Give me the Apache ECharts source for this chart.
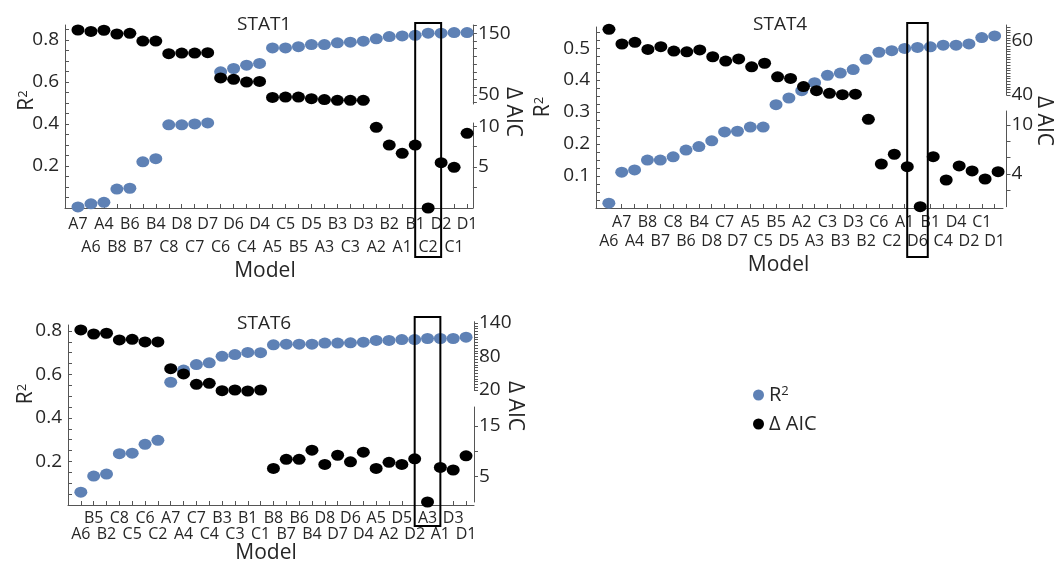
<!DOCTYPE html>
<html><head><meta charset="utf-8">
<script src="https://cdn.jsdelivr.net/npm/echarts@6/dist/echarts.min.js"></script>
<style>html,body{margin:0;padding:0;background:#fff}#c{width:1055px;height:565px}</style>
</head><body><div id="c"></div>
<script>
// ---------------- data ----------------
const models1 = ['A7','A6','A4','B8','B6','B7','B4','C8','D8','C7','D7','C6','D6','C4','D4','A5','C5','B5','D5','A3','B3','C3','D3','A2','B2','A1','B1','C2','D2','C1','D1'];
const r2_1 = [0.005,0.02,0.027,0.09,0.094,0.22,0.235,0.396,0.396,0.40,0.405,0.648,0.664,0.68,0.688,0.762,0.762,0.768,0.778,0.778,0.786,0.789,0.794,0.805,0.816,0.819,0.822,0.832,0.832,0.835,0.835];
const aic_1 = [155.4,153,155,148.9,150,137.5,137.5,117,118,118,118.7,77.6,75.4,71,72,46,46.7,46.7,44,42.5,41.4,41.4,41.4,9.85,7.69,6.68,7.69,0,5.53,4.97,9.12];

const models4 = ['A6','A7','A4','B8','B7','C8','B6','B4','D8','C7','D7','A5','C5','B5','D5','A2','A3','C3','B3','D3','B2','C6','C2','A1','D6','B1','C4','D4','D2','C1','D1'];
const r2_4 = [0.015,0.112,0.119,0.15,0.15,0.16,0.181,0.192,0.21,0.238,0.24,0.253,0.253,0.323,0.344,0.367,0.392,0.415,0.422,0.433,0.465,0.487,0.492,0.499,0.502,0.504,0.509,0.509,0.513,0.533,0.538];
const aic_4 = [64.2,58.8,59.4,56.8,57.8,56.2,55.9,56.6,54.1,52.5,53.3,50.4,51.7,46.7,46.1,43.1,41.6,40.6,40.1,40.3,10.67,5.21,6.4,4.88,0,6.1,3.26,4.97,4.36,3.38,4.27];

const models6 = ['A6','B5','B2','C8','C5','C6','C2','A7','A4','C7','C4','B3','C3','B1','C1','B8','B7','B6','B4','D8','D7','D6','D4','A5','A2','D5','D2','A3','A1','D3','D1'];
const r2_6 = [0.059,0.133,0.142,0.236,0.238,0.279,0.297,0.564,0.62,0.645,0.653,0.683,0.691,0.701,0.70,0.736,0.739,0.739,0.739,0.744,0.744,0.745,0.748,0.756,0.756,0.76,0.76,0.765,0.765,0.765,0.771];
const aic_6 = [127.5,120.3,121.6,109.6,110.8,106,106,58.2,48.7,30.2,32,18.8,20,18.2,20,6.6,8.4,8.4,10.2,7.4,9.2,7.9,9.8,6.6,7.8,7.4,8.5,0,6.8,6.3,9.1];

const titles = ['STAT1','STAT4','STAT6'];
const highlighted = ['C2','D6','A3'];
const aicBreak = [20, 20, 15];
const r2Labels = [[0.2,0.4,0.6,0.8],[0.1,0.2,0.3,0.4,0.5],[0.2,0.4,0.6,0.8]];
const upLabels = [[50,150],[40,60],[20,80,140]];
const loLabels = [[5,10],[4,10],[5,15]];

// ---------------- layout / style ----------------
const FONT = 'Open Sans';
const TXT = '#262626';
const AX = '#555';
const BLUE = '#5e81b5';
function seq(a, b, s) { const o = []; for (let v = a; v <= b + 1e-9; v += s) o.push(Math.round(v * 1000) / 1000); return o; }

const panels = [
  {models: models1, r2: r2_1, aic: aic_1, firstRowOdd: true,
   left: 65, step: 12.97, xMax: 31.45, top: 25, bottom: 208, r2Max: 0.871, r2Tick: 0.05,
   upTop: 25, upBottom: 104, upMin: 35.4, upMax: 163.5, upTicks: seq(37.5, 162.5, 12.5),
   loTop: 123, loBottom: 208, loMin: 0, loMax: 10.38, loTicks: [2.5,5,7.5,10],
   lh: 23, modelGap: 53, modelPad: [0,8,0,0], r2Gap: 27, r2Pad: [0,0,0,32], aicGap: 30, aicPad: [0,9,0,0],
   titleLeft: 237, titleTop: 15, boxHalf: 1, boxTop: 23, boxBottom: 257},
  {models: models4, r2: r2_4, aic: aic_4, firstRowOdd: false,
   left: 596, step: 12.97, xMax: 31.65, top: 27, bottom: 208, r2Max: 0.566, r2Tick: 0.025,
   upTop: 25, upBottom: 95, upMin: 40, upMax: 65.8, upTicks: seq(40, 65, 1),
   loTop: 111, loBottom: 206.7, loMin: 0, loMax: 11.68, loTicks: [2,4,6,8,10],
   lh: 19, modelGap: 47, modelPad: [0,42,0,0], r2Gap: 42, r2Pad: [0,0,0,21], aicGap: 30, aicPad: [0,0,0,7],
   titleLeft: 753, titleTop: 15, boxHalf: 0.8, boxTop: 23, boxBottom: 257},
  {models: models6, r2: r2_6, aic: aic_6, firstRowOdd: false,
   left: 68, step: 12.84, xMax: 31.62, top: 325, bottom: 507, r2Max: 0.827, r2Tick: 0.05,
   upTop: 321.7, upBottom: 390, upMin: 20, upMax: 142.3, upTicks: seq(20, 140, 5),
   loTop: 407, loBottom: 502, loMin: 0, loMax: 18.7, loTicks: [5,10,15],
   lh: 16, modelGap: 38, modelPad: [0,10,0,0], r2Gap: 31, r2Pad: [0,0,0,42], aicGap: 30, aicPad: [0,18,0,0],
   titleLeft: 237, titleTop: 314, boxHalf: 1, boxTop: 317, boxBottom: 526}
];

const grid = [], xAxis = [], yAxis = [], series = [], title = [];
const supRich = {sup: {fontSize: 13, fontFamily: FONT, color: TXT, verticalAlign: 'top', lineHeight: 13}};

panels.forEach((p, i) => {
  const w = p.xMax * p.step;
  const pos = seq(1, p.models.length, 1);
  const isRow1 = k => (k % 2 === 1) === p.firstRowOdd;
  const pos1 = pos.filter(isRow1), pos2 = pos.filter(k => !isRow1(k));
  const labelStyle = {showMinLabel: true, showMaxLabel: true, hideOverlap: false,
    fontSize: 16, fontFamily: FONT, color: TXT, margin: 5, lineHeight: p.lh};
  grid.push({left: p.left, top: p.top, width: w, height: p.bottom - p.top});
  grid.push({left: p.left, top: p.upTop, width: w, height: p.upBottom - p.upTop});
  grid.push({left: p.left, top: p.loTop, width: w, height: p.loBottom - p.loTop});

  // main x axis: first label row + axis name
  xAxis.push({
    gridIndex: 3 * i, type: 'value', min: 0, max: p.xMax,
    name: 'Model', nameLocation: 'middle', nameGap: p.modelGap, nameMoveOverlap: false,
    nameTextStyle: {fontSize: 21, fontFamily: FONT, color: TXT, padding: p.modelPad},
    axisLine: {show: true, onZero: false, lineStyle: {color: AX, width: 1}},
    axisTick: {show: true, inside: true, length: 4, customValues: pos, lineStyle: {color: AX}},
    axisLabel: Object.assign({customValues: pos1, formatter: v => p.models[Math.round(v) - 1] || ''}, labelStyle),
    splitLine: {show: false}
  });
  // second label row
  xAxis.push({
    gridIndex: 3 * i, type: 'value', min: 0, max: p.xMax, position: 'bottom',
    axisLine: {show: false}, axisTick: {show: false}, splitLine: {show: false},
    axisLabel: Object.assign({customValues: pos2, formatter: v => '\n' + (p.models[Math.round(v) - 1] || '')}, labelStyle)
  });
  xAxis.push({gridIndex: 3 * i + 1, type: 'value', min: 0, max: p.xMax, show: false});
  xAxis.push({gridIndex: 3 * i + 2, type: 'value', min: 0, max: p.xMax, show: false});

  yAxis.push({
    gridIndex: 3 * i, type: 'value', position: 'left', min: 0, max: p.r2Max,
    name: 'R{sup|2}', nameLocation: 'middle', nameGap: p.r2Gap, nameRotate: 90, nameMoveOverlap: false,
    nameTextStyle: {fontSize: 21, fontFamily: FONT, color: TXT, padding: p.r2Pad, rich: supRich},
    axisLine: {show: true, onZero: false, lineStyle: {color: AX}},
    axisTick: {show: true, inside: true, length: 4, customValues: seq(p.r2Tick, p.r2Max, p.r2Tick), lineStyle: {color: AX}},
    axisLabel: {customValues: r2Labels[i], showMinLabel: true, showMaxLabel: true, fontSize: 19, fontFamily: FONT, color: TXT, margin: 6, formatter: v => v.toFixed(1)},
    splitLine: {show: false}
  });
  yAxis.push({
    gridIndex: 3 * i, type: 'value', position: 'right', min: 0, max: 1,
    name: 'Δ AIC', nameLocation: 'middle', nameGap: p.aicGap, nameRotate: -90, nameMoveOverlap: false,
    nameTextStyle: {fontSize: 21, fontFamily: FONT, color: TXT, padding: p.aicPad},
    axisLine: {show: false}, axisTick: {show: false}, axisLabel: {show: false}, splitLine: {show: false}
  });
  yAxis.push({
    gridIndex: 3 * i + 1, type: 'value', position: 'right', min: p.upMin, max: p.upMax,
    axisLine: {show: true, onZero: false, lineStyle: {color: AX}},
    axisTick: {show: true, length: 4, customValues: p.upTicks, lineStyle: {color: AX}},
    axisLabel: {customValues: upLabels[i], showMinLabel: true, showMaxLabel: true, fontSize: 19, fontFamily: FONT, color: TXT, margin: 5},
    splitLine: {show: false}
  });
  yAxis.push({
    gridIndex: 3 * i + 2, type: 'value', position: 'right', min: p.loMin, max: p.loMax,
    axisLine: {show: true, onZero: false, lineStyle: {color: AX}},
    axisTick: {show: true, length: 4, customValues: p.loTicks, lineStyle: {color: AX}},
    axisLabel: {customValues: loLabels[i], showMinLabel: true, showMaxLabel: true, fontSize: 19, fontFamily: FONT, color: TXT, margin: 5},
    splitLine: {show: false}
  });

  series.push({type: 'scatter', name: 'R2', xAxisIndex: 4 * i, yAxisIndex: 4 * i, clip: false,
    symbol: 'circle', symbolSize: [13, 11], itemStyle: {color: BLUE, opacity: 1}, z: 2,
    data: p.r2.map((v, k) => [k + 1, v])});
  const up = [], lo = [];
  p.aic.forEach((v, k) => { (v >= aicBreak[i] ? up : lo).push([k + 1, v]); });
  series.push({type: 'scatter', name: 'ΔAIC', xAxisIndex: 4 * i + 2, yAxisIndex: 4 * i + 2, clip: false,
    symbol: 'circle', symbolSize: [13, 11], itemStyle: {color: '#000', opacity: 1}, z: 3, data: up});
  series.push({type: 'scatter', name: 'ΔAIC', xAxisIndex: 4 * i + 3, yAxisIndex: 4 * i + 3, clip: false,
    symbol: 'circle', symbolSize: [13, 11], itemStyle: {color: '#000', opacity: 1}, z: 3, data: lo});

  title.push({text: titles[i], left: p.titleLeft, top: p.titleTop, padding: 0,
    textStyle: {fontSize: 19, fontWeight: 'normal', fontFamily: FONT, color: TXT}});
});

const chart = echarts.init(document.getElementById('c'), null, {renderer: 'canvas'});
chart.setOption({
  animation: false,
  backgroundColor: '#fff',
  title, grid, xAxis, yAxis, series,
  legend: {
    data: ['R2', 'ΔAIC'], orient: 'vertical', left: 753, top: 385, padding: 0,
    itemWidth: 11, itemHeight: 11, itemGap: 9, icon: 'circle', selectedMode: false,
    formatter: n => n === 'R2' ? 'R{sup|2}' : 'Δ AIC',
    textStyle: {fontSize: 20, fontFamily: FONT, color: TXT, rich: supRich}
  }
});

const graphic = panels.map((p, i) => {
  const k = p.models.indexOf(highlighted[i]) + 1;
  const x0 = chart.convertToPixel({xAxisIndex: 4 * i}, k - p.boxHalf);
  const x1 = chart.convertToPixel({xAxisIndex: 4 * i}, k + p.boxHalf);
  return {type: 'rect', z: 10, silent: true,
    shape: {x: x0, y: p.boxTop, width: x1 - x0, height: p.boxBottom - p.boxTop},
    style: {fill: 'none', stroke: '#000', lineWidth: 2}};
});
chart.setOption({graphic});
</script></body></html>
